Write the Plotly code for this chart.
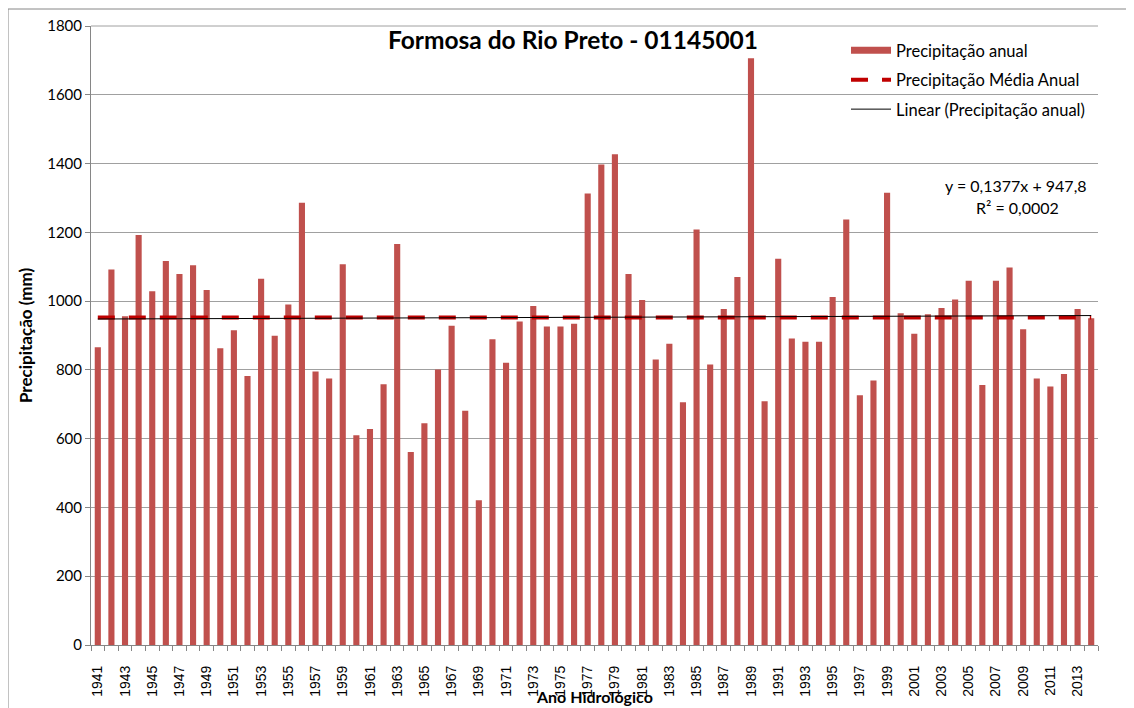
import plotly.graph_objects as go
import numpy as np

years = list(range(1941, 2015))
precip = [866, 1092, 956, 1192, 1029, 1117, 1079, 1104, 1032, 863,
          915, 782, 1065, 899, 990, 1286, 795, 775, 1107, 610,
          628, 758, 1166, 561, 645, 801, 928, 681, 421, 889,
          821, 941, 986, 926, 926, 934, 1313, 1397, 1427, 1079,
          1003, 830, 876, 706, 1208, 816, 977, 1070, 1706, 709,
          1123, 891, 882, 882, 1012, 1237, 726, 769, 1315, 965,
          905, 962, 980, 1005, 1059, 756, 1059, 1098, 918, 775,
          752, 788, 977, 950]
trend_slope = 0.1377
trend_intercept = 947.8
tick_years = list(range(1941, 2014, 2))

mean_val = float(np.mean(precip))
idx = np.arange(1, len(years) + 1)
trend = trend_slope * idx + trend_intercept

FONT = "Lato"
BAR = "#C0504D"
PW, PH = 1007, 619  # plot area size in px

fig = go.Figure()
fig.add_trace(go.Bar(x=years, y=precip, name="Precipitação anual",
                     marker=dict(color=BAR, line=dict(width=0)),
                     showlegend=False))
# legend-only entry for the bars (wide rectangle symbol)
fig.add_trace(go.Scatter(x=[None], y=[None], mode="lines", name="Precipitação anual",
                         line=dict(color=BAR, width=7), legendgroup="a"))
fig.add_trace(go.Scatter(x=years, y=[mean_val] * len(years), mode="lines",
                         name="Precipitação Média Anual",
                         line=dict(color="#C00000", width=4, dash="17px,14px"),
                         legendgroup="b"))
fig.add_trace(go.Scatter(x=years, y=trend, mode="lines",
                         name="Linear (Precipitação anual)",
                         line=dict(color="black", width=1),
                         legendgroup="c"))

fig.update_layout(
    width=1126, height=700,
    paper_bgcolor="white", plot_bgcolor="white",
    margin=dict(l=83, r=36, t=18, b=63, autoexpand=False),
    bargap=0.55,
    font=dict(family=FONT, color="black"),
    showlegend=True,
    legend=dict(x=(846 - 91) / PW, y=1 - (33 - 26) / PH, xanchor="left", yanchor="top",
                font=dict(size=16.5, family=FONT), bgcolor="rgba(0,0,0,0)",
                tracegroupgap=5, itemwidth=40),
    title=dict(text="<b>Formosa do Rio Preto - 01145001</b>",
               x=(573 - 91) / PW, xref="paper", xanchor="center",
               y=1 - (40 - 26) / PH, yref="paper", yanchor="middle",
               font=dict(size=24.5, family=FONT)),
)
fig.update_xaxes(
    range=[1940.5, 2014.5],
    tickmode="array", tickvals=tick_years, ticktext=[str(y) for y in tick_years],
    tickangle=-90, tickfont=dict(size=14, family="Liberation Sans"),
    ticks="", showgrid=False, ticklabelstandoff=14,
    showline=True, linecolor="#868686", linewidth=1,
    minor=dict(tickmode="array", tickvals=[y + 0.5 for y in [1940] + years],
               ticks="outside", ticklen=5, tickcolor="#868686", showgrid=False),
)
fig.update_yaxes(
    range=[0, 1800], dtick=200,
    tickfont=dict(size=15, family=FONT),
    ticks="outside", ticklen=5, tickcolor="#868686",
    showgrid=True, gridcolor="#A0A0A0", gridwidth=1,
    showline=True, linecolor="#868686", linewidth=1,
    zeroline=False,
    title=dict(text="<b>Precipitação (mm)</b>", font=dict(size=17, family=FONT), standoff=10),
)
# x-axis title at the bottom edge
fig.add_annotation(text="<b>Ano Hidrológico</b>", x=0.5, y=(645 - 708) / PH,
                   xref="paper", yref="paper", xanchor="center", yanchor="bottom",
                   showarrow=False, font=dict(size=16, family=FONT))
fig.add_annotation(text="y = 0,1377x + 947,8", x=(1089 - 91) / PW, y=(645 - 185) / PH,
                   xref="paper", yref="paper", xanchor="right", yanchor="middle",
                   showarrow=False, font=dict(size=16, family=FONT))
fig.add_annotation(text="R² = 0,0002", x=(1061 - 91) / PW, y=(645 - 208) / PH,
                   xref="paper", yref="paper", xanchor="right", yanchor="middle",
                   showarrow=False, font=dict(size=16, family=FONT))
fig.add_shape(type="line", xref="paper", yref="paper", x0=0, x1=1, y0=1, y1=1,
              line=dict(color="#A0A0A0", width=1))
fig.add_shape(type="rect", xref="paper", yref="paper",
              x0=(8 - 91) / PW, x1=1.2, y0=-0.2, y1=(645 - 9) / PH,
              line=dict(color="#868686", width=1), layer="below")
fig.write_html("out.html")
